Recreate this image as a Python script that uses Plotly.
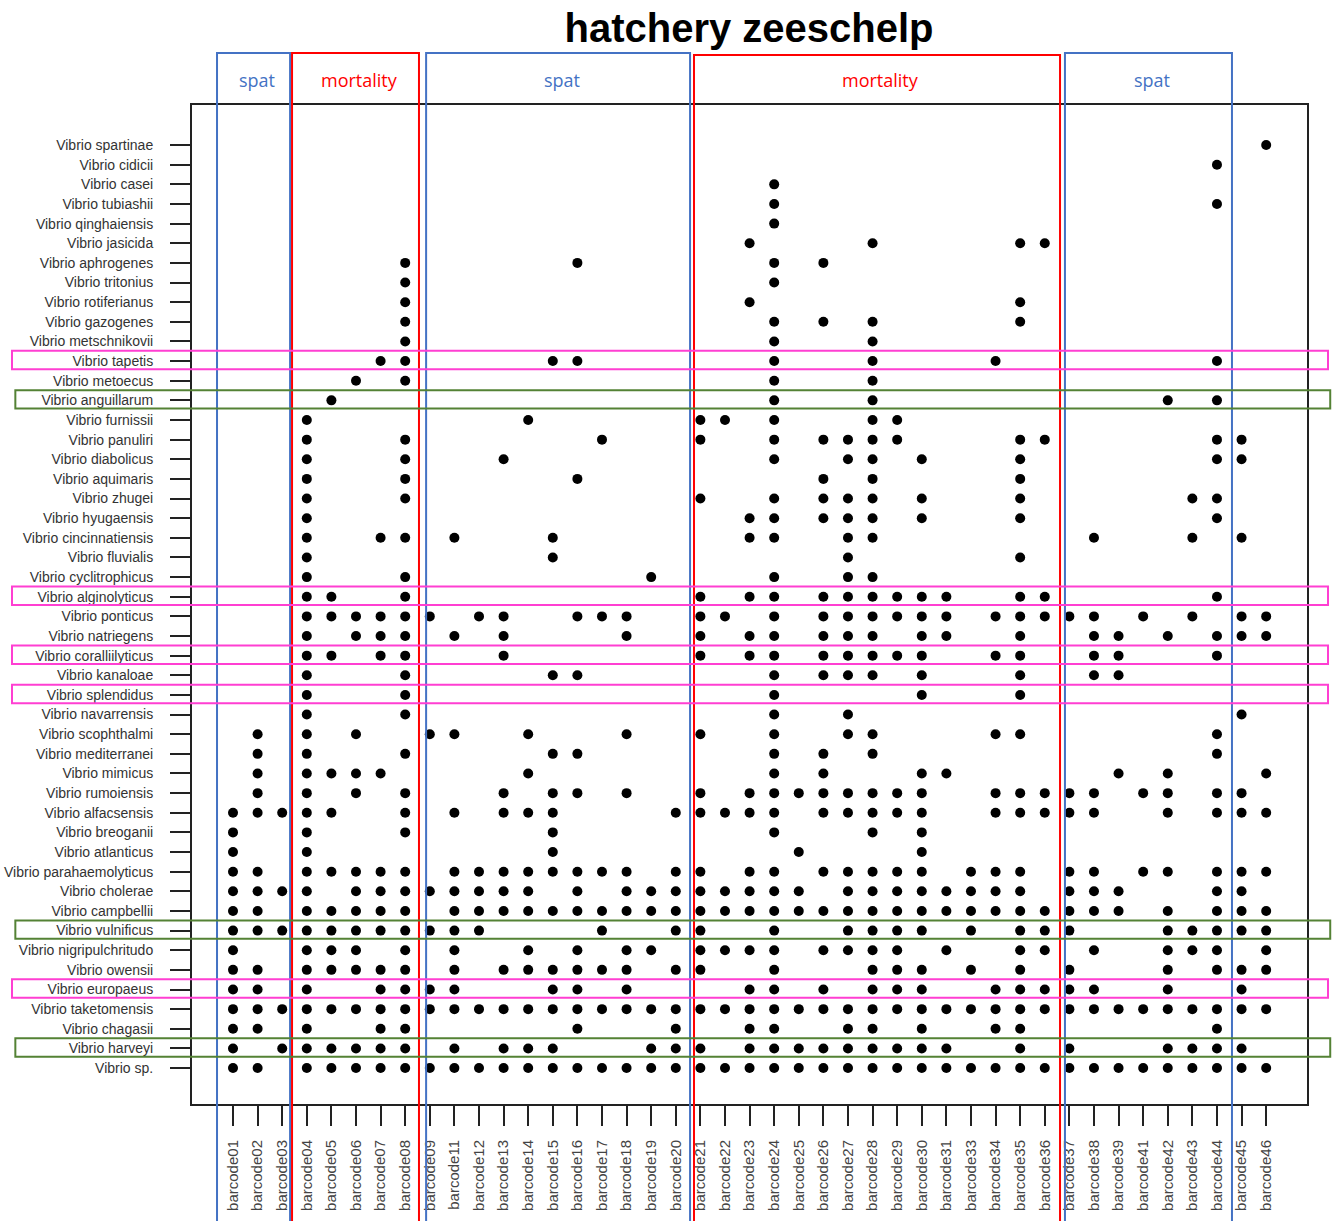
import plotly.graph_objects as go

# ---------------- data ----------------
barcode_nums = ["01", "02", "03", "04", "05", "06", "07", "08", "09",
                "11", "12", "13", "14", "15", "16", "17", "18", "19", "20",
                "21", "22", "23", "24", "25", "26", "27", "28", "29", "30", "31",
                "33", "34", "35", "36", "37", "38", "39",
                "41", "42", "43", "44", "45", "46"]
barcodes = ["barcode" + n for n in barcode_nums]

species = [
    "Vibrio spartinae", "Vibrio cidicii", "Vibrio casei", "Vibrio tubiashii",
    "Vibrio qinghaiensis", "Vibrio jasicida", "Vibrio aphrogenes", "Vibrio tritonius",
    "Vibrio rotiferianus", "Vibrio gazogenes", "Vibrio metschnikovii", "Vibrio tapetis",
    "Vibrio metoecus", "Vibrio anguillarum", "Vibrio furnissii", "Vibrio panuliri",
    "Vibrio diabolicus", "Vibrio aquimaris", "Vibrio zhugei", "Vibrio hyugaensis",
    "Vibrio cincinnatiensis", "Vibrio fluvialis", "Vibrio cyclitrophicus", "Vibrio alginolyticus",
    "Vibrio ponticus", "Vibrio natriegens", "Vibrio coralliilyticus", "Vibrio kanaloae",
    "Vibrio splendidus", "Vibrio navarrensis", "Vibrio scophthalmi", "Vibrio mediterranei",
    "Vibrio mimicus", "Vibrio rumoiensis", "Vibrio alfacsensis", "Vibrio breoganii",
    "Vibrio atlanticus", "Vibrio parahaemolyticus", "Vibrio cholerae", "Vibrio campbellii",
    "Vibrio vulnificus", "Vibrio nigripulchritudo", "Vibrio owensii", "Vibrio europaeus",
    "Vibrio taketomensis", "Vibrio chagasii", "Vibrio harveyi", "Vibrio sp.",
]

# barcodes in which each species (same order as `species`) was detected
hits = [
    "46",
    "44",
    "24",
    "24 44",
    "24",
    "23 28 35 36",
    "08 16 24 26",
    "08 24",
    "08 23 35",
    "08 24 26 28 35",
    "08 24 28",
    "07 08 15 16 24 28 34 44",
    "06 08 24 28",
    "05 24 28 42 44",
    "04 14 21 22 24 28 29",
    "04 08 17 21 24 26 27 28 29 35 36 44 45",
    "04 08 13 24 27 28 30 35 44 45",
    "04 08 16 26 28 35",
    "04 08 21 24 26 27 28 30 35 43 44",
    "04 23 24 26 27 28 30 35 44",
    "04 07 08 11 15 23 24 27 28 38 43 45",
    "04 15 27 35",
    "04 08 19 24 27 28",
    "04 05 08 21 23 24 26 27 28 29 30 31 35 36 44",
    "04 05 06 07 08 09 12 13 16 17 18 21 22 24 26 27 28 29 30 31 34 35 36 37 38 41 43 45 46",
    "04 06 07 08 11 13 18 21 23 24 26 27 28 30 31 35 38 39 42 44 45 46",
    "04 05 07 08 13 21 23 24 26 27 28 29 30 34 35 38 39 44",
    "04 08 15 16 24 26 27 28 30 35 38 39",
    "04 08 24 30 35",
    "04 08 24 27 45",
    "02 04 06 09 11 14 18 21 24 27 28 34 35 44",
    "02 04 08 15 16 24 26 28 44",
    "02 04 05 06 07 14 24 26 30 31 39 42 46",
    "02 04 06 08 13 15 16 18 21 23 24 25 26 27 28 29 30 34 35 36 37 38 41 42 44 45",
    "01 02 03 04 05 08 11 13 14 15 20 21 22 23 24 26 27 28 29 30 34 35 36 37 38 42 44 45 46",
    "01 04 08 15 24 28 30",
    "01 04 15 25 30",
    "01 02 04 05 06 07 08 11 12 13 14 15 16 17 18 20 21 23 24 26 27 28 29 30 33 34 35 37 38 41 42 44 45 46",
    "01 02 03 04 06 07 08 09 11 12 13 14 16 18 19 20 21 22 23 24 25 27 28 29 30 31 33 34 35 37 38 39 44 45",
    "01 02 04 05 06 07 08 11 12 13 14 15 16 17 18 19 20 21 22 23 24 25 26 27 28 29 30 31 33 34 35 36 37 38 39 42 44 45 46",
    "01 02 03 04 05 06 07 08 09 11 12 17 20 21 24 27 28 29 30 33 35 36 37 42 43 44 45 46",
    "01 04 05 06 08 11 14 16 18 19 21 22 23 24 26 27 28 29 31 35 36 38 42 43 44 46",
    "01 02 04 05 06 07 08 11 13 14 15 16 17 18 20 21 24 28 29 30 33 35 37 42 44 45 46",
    "01 02 04 07 08 09 11 15 16 18 23 24 26 28 29 30 34 35 36 37 38 42 45",
    "01 02 03 04 05 06 07 08 09 11 12 13 14 15 16 17 18 19 20 21 22 23 24 25 26 27 28 29 30 31 33 34 35 36 37 38 39 41 42 43 44 45 46",
    "01 02 04 07 08 16 20 23 24 27 28 30 34 35 44",
    "01 03 04 05 06 07 08 11 13 14 15 19 20 21 23 24 25 26 27 28 29 30 31 35 37 42 43 44 45",
    "01 02 04 05 06 07 08 09 11 12 13 14 15 16 17 18 19 20 21 22 23 24 25 26 27 28 29 30 31 33 34 35 36 37 38 39 41 42 43 44 45 46",
]

group_labels = ["spat", "mortality", "spat", "mortality", "spat"]
group_first = ["01", "04", "09", "21", "37"]
group_last = ["03", "08", "20", "36", "44"]

pink_rows = ["Vibrio tapetis", "Vibrio alginolyticus", "Vibrio coralliilyticus",
             "Vibrio splendidus", "Vibrio europaeus"]
green_rows = ["Vibrio anguillarum", "Vibrio vulnificus", "Vibrio harveyi"]

# ---------------- build ----------------
xs, ys = [], []
for sp, h in zip(species, hits):
    for n in h.split():
        xs.append("barcode" + n)
        ys.append(sp)

fig = go.Figure()
fig.add_trace(go.Scatter(
    x=xs, y=ys, mode="markers",
    marker=dict(color="black", size=10, line=dict(width=0)),
    showlegend=False, hoverinfo="x+y",
))

W, H = 1340, 1221
L, R, T, B = 192, 1307, 105, 1104

n_x = len(barcodes)
n_y = len(species)

fig.update_xaxes(
    type="category", categoryarray=barcodes, categoryorder="array",
    range=[-1.667, n_x - 1 + 1.66], automargin=False,
    showgrid=False, zeroline=False,
    showline=True, mirror=True, linecolor="#222", linewidth=2,
    ticks="outside", ticklen=20, tickwidth=2, tickcolor="#222",
    tickangle=-90, ticklabelstandoff=8,
    tickfont=dict(family="Liberation Sans, Arial", size=15, color="#444"),
)
fig.update_yaxes(
    type="category", categoryarray=species, categoryorder="array",
    range=[n_y - 1 + 1.83, -2.04], automargin=False,
    showgrid=False, zeroline=False,
    showline=True, mirror=True, linecolor="#222", linewidth=2,
    ticks="outside", ticklen=20, tickwidth=2, tickcolor="#222",
    ticklabelstandoff=14,
    tickfont=dict(family="Liberation Sans, Arial", size=14, color="#333"),
)

shapes = []
annotations = []
pads = [(0.65, 0.32), (0.60, 0.56), (0.15, 0.58), (0.26, 0.62), (0.18, 0.61)]
tops = [53, 53, 53, 55, 53]
for lab, f, l, (pl, pr), tp in zip(group_labels, group_first, group_last, pads, tops):
    i0 = barcode_nums.index(f)
    i1 = barcode_nums.index(l)
    col = "#4472C4" if lab == "spat" else "#FF0000"
    ytop = (B - tp) / (B - T)
    shapes.append(dict(type="rect", xref="x", yref="paper",
                       x0=i0 - pl, x1=i1 + pr, y0=-0.2, y1=ytop,
                       line=dict(color=col, width=2), fillcolor="rgba(0,0,0,0)", layer="above"))
    annotations.append(dict(xref="x", yref="paper", x=(i0 - pl + i1 + pr) / 2 + 0.15,
                            y=(B - 80) / (B - T), text=lab, showarrow=False,
                            xanchor="center", yanchor="middle",
                            font=dict(family="Open Sans, sans-serif", size=18, color=col)))

px0 = (12 - L) / (R - L)
px1 = (1328 - L) / (R - L)
for sp in pink_rows:
    i = species.index(sp)
    shapes.append(dict(type="rect", xref="paper", yref="y",
                       x0=px0, x1=px1, y0=i - 0.52, y1=i + 0.42,
                       line=dict(color="#FF3FD2", width=2), fillcolor="rgba(0,0,0,0)", layer="above"))
for sp in green_rows:
    i = species.index(sp)
    shapes.append(dict(type="rect", xref="paper", yref="y",
                       x0=px0 + 0.003, x1=px1 + 0.002, y0=i - 0.52, y1=i + 0.42,
                       line=dict(color="#548235", width=2), fillcolor="rgba(0,0,0,0)", layer="above"))

fig.update_layout(
    width=W, height=H,
    margin=dict(l=L, r=W - R, t=T, b=H - B, pad=0, autoexpand=False),
    paper_bgcolor="white", plot_bgcolor="white",
    title=dict(text="<b>hatchery zeeschelp</b>", x=749 / W, y=1 - 28 / H,
               xanchor="center", yanchor="middle",
               font=dict(family="Liberation Sans, Arial", size=40, color="black")),
    shapes=shapes, annotations=annotations,
)

fig.write_html("out.html", config={"displayModeBar": False},
               post_script="document.body.style.margin='0px';document.body.style.overflow='hidden';")
